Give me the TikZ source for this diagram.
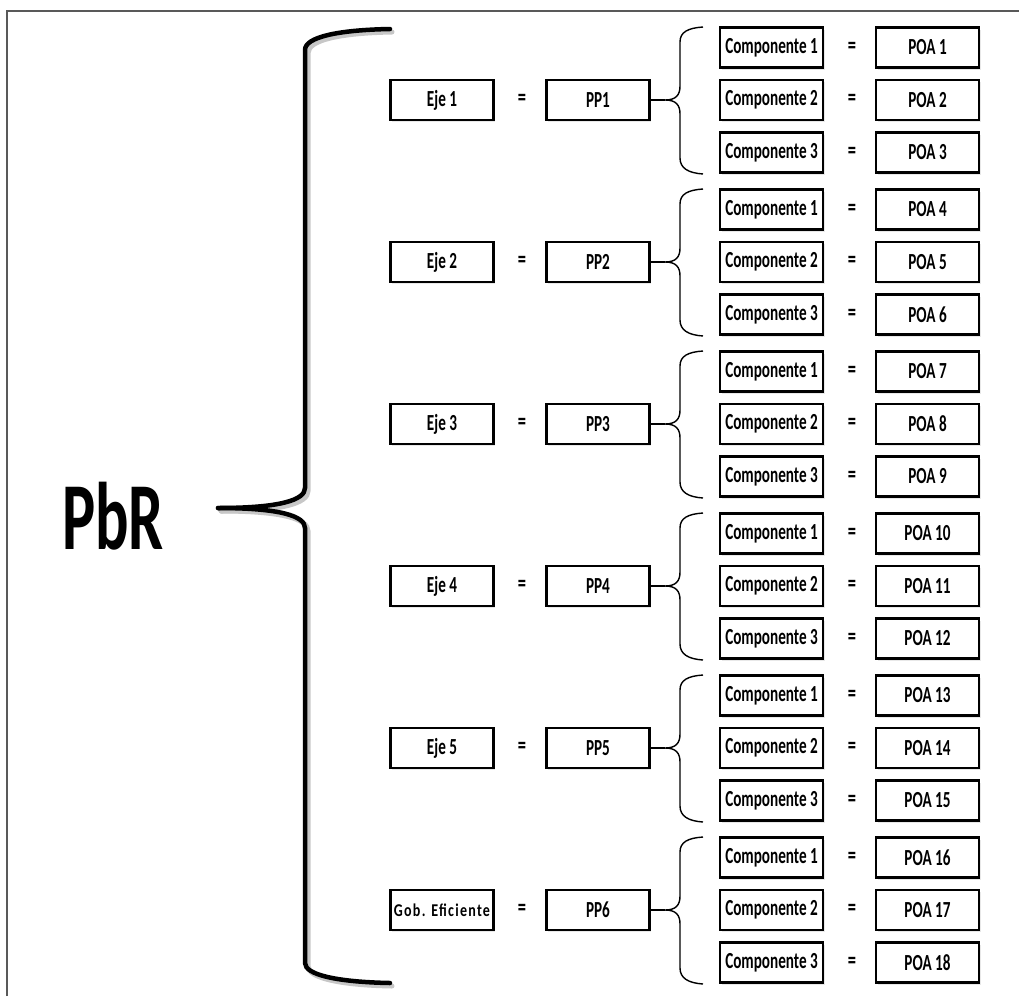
\documentclass[tikz,border=0pt]{standalone}
\usepackage{fontspec}
\setmainfont{Carlito}
\newfontfamily\boxfont[FakeStretch=0.66]{Carlito}
\newfontfamily\bigfont[FakeStretch=0.65]{Carlito}
\newfontfamily\gobfont[FakeStretch=0.78,LetterSpace=7]{Carlito}
\usetikzlibrary{shadows}
\tikzset{
  boxnode/.style={draw, line width=2.8pt, minimum width=103pt, minimum height=40pt, inner sep=0pt,
    fill=white, drop shadow={opacity=0.18, shadow xshift=1.5pt, shadow yshift=-2pt},
    font=\boxfont\bfseries\fontsize{23}{26}\selectfont},
  eqnode/.style={inner sep=0pt, font=\boxfont\bfseries\fontsize{25}{28}\selectfont},
  bigbrace/.style={line width=4.5pt, line cap=round},
  bigshadow/.style={line width=5pt, black!22, line cap=round},
  smallbrace/.style={line width=1.4pt},
  frameline/.style={line width=1.4pt, black!65}
}
\begin{document}
\begin{tikzpicture}[x=1pt,y=-1pt]
\useasboundingbox (0,0) rectangle (1019,996);
\draw[frameline] (7,996) -- (7,11) -- (1019,11);
% big brace
\draw[bigshadow] (392,32) .. controls (340,33) and (308,40) .. (308,53) -- (308,491) .. controls (308,503) and (283,511) .. (221,511);
\draw[bigshadow] (221,511) .. controls (283,511) and (308,519) .. (308,531) -- (308,966) .. controls (308,978) and (340,985) .. (392,986);
\draw[bigbrace] (390,29) .. controls (338,30) and (305,37) .. (305,50) -- (305,488) .. controls (305,500) and (280,508) .. (218,508);
\draw[bigbrace] (218,508) .. controls (280,508) and (305,516) .. (305,528) -- (305,963) .. controls (305,975) and (338,982) .. (390,983);
\node[font=\bigfont\bfseries\fontsize{96}{100}\selectfont, inner sep=0pt] (pbr) at (113,516) {PbR};
% groups
\foreach \g/\lab in {0/{Eje 1},1/{Eje 2},2/{Eje 3},3/{Eje 4},4/{Eje 5}}{
  \pgfmathsetmacro{\yc}{100+162*\g}
  \node[boxnode] (eje\g) at (442,\yc) {\lab};
}
\node[boxnode, font=\gobfont\bfseries\fontsize{18}{20}\selectfont] (eje5) at (442,910) {Gob. Eficiente};
\foreach \g in {0,...,5}{
  \pgfmathsetmacro{\yc}{100+162*\g}
  \pgfmathtruncatemacro{\pn}{\g+1}
  \node[eqnode] (eqa\g) at (522,\yc) {=};
  \node[boxnode] (pp\g) at (598,\yc) {PP\pn};
  \coordinate (tip\g) at (665,\yc);
  \draw[smallbrace] (pp\g.east) -- (tip\g);
  \draw[smallbrace] (703,\yc-73) .. controls (688,\yc-72) and (680,\yc-68) .. (680,\yc-58)
     -- (680,\yc-14) .. controls (680,\yc-5) and (676,\yc) .. (tip\g)
     .. controls (676,\yc) and (680,\yc+5) .. (680,\yc+14)
     -- (680,\yc+58) .. controls (680,\yc+68) and (688,\yc+73) .. (703,\yc+74);
  \foreach \k in {1,2,3}{
    \pgfmathsetmacro{\yk}{\yc+52.5*(\k-2)}
    \pgfmathtruncatemacro{\pa}{3*\g+\k}
    \node[boxnode] (c\g-\k) at (771.5,\yk) {Componente \k};
    \node[eqnode] (eqb\g-\k) at (852,\yk) {=};
    \node[boxnode] (poa\g-\k) at (927.5,\yk) {POA \pa};
  }
}
\end{tikzpicture}
\end{document}
